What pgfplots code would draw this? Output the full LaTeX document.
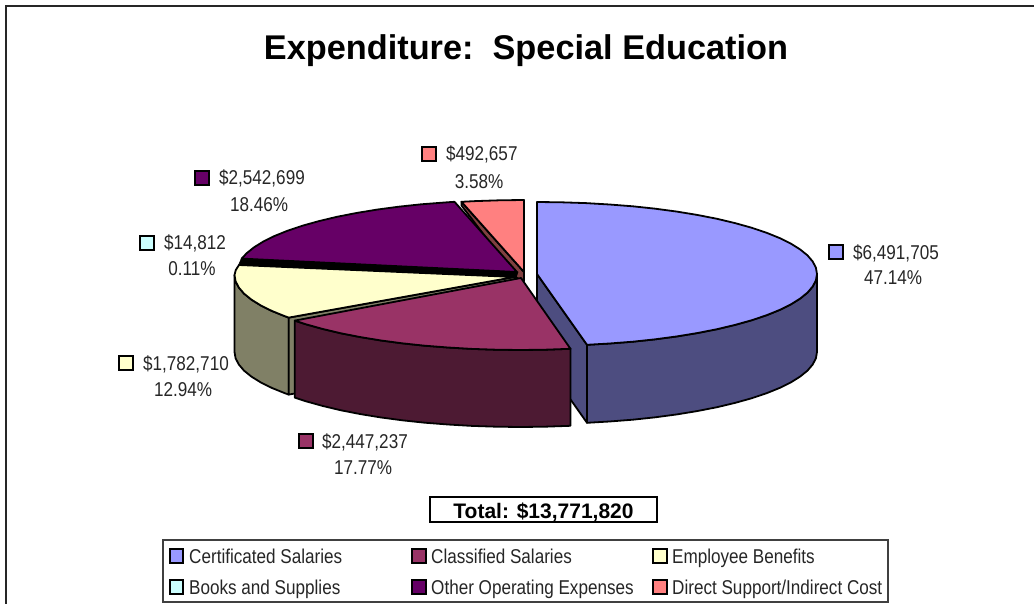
\documentclass[border=0pt]{standalone}
\usepackage{fontspec}
\usepackage{pgfplots}
\pgfplotsset{compat=1.18}
\setmainfont{Liberation Sans}
\newfontfamily\lab[FakeStretch=0.855]{Liberation Sans}
\definecolor{cBlue}{HTML}{9999FF}
\definecolor{cBlueS}{HTML}{4D4D80}
\definecolor{cBur}{HTML}{993366}
\definecolor{cBurS}{HTML}{4D1A33}
\definecolor{cYel}{HTML}{FFFFCC}
\definecolor{cYelS}{HTML}{808066}
\definecolor{cCya}{HTML}{CCFFFF}
\definecolor{cPur}{HTML}{660066}
\definecolor{cPin}{HTML}{FF8080}
\definecolor{cPinS}{HTML}{804040}
\pgfplotsset{
  slice/.style={draw=black,line width=1.8pt,line join=round,fill=#1,mark=none},
  key/.style={draw=black,line width=1.7pt,line join=miter,fill=#1,mark=none},
}
\tikzset{
  lbl/.style={anchor=base west,inner sep=0pt,font=\lab\fontsize{20}{20}\selectfont,text=black!85},
  lblc/.style={anchor=base,inner sep=0pt,font=\lab\fontsize{20}{20}\selectfont,text=black!85},
}
\begin{document}
\begin{tikzpicture}
\path[use as bounding box] (0,0) rectangle (1034pt,604pt);
\begin{axis}[at={(0,0)},anchor=south west,scale only axis,width=1034pt,height=604pt,
  xmin=0,xmax=1034,ymin=0,ymax=604,y dir=reverse,hide axis,clip=false]
% frame
\addplot[draw=black!85,line width=1.6pt,mark=none] coordinates {(6,604)(6,6)(1034,6)};
% direct support cut face
\addplot[slice=cPinS] coordinates {(461.5,201.8)(524,272)(524,281)(517,278)(461.5,205.5)} --cycle;
% direct support
\addplot[slice=cPin] coordinates {(524,272)(461.5,201.8)(475.4,201.1)(499.6,200.3)(524,200)} --cycle;
% books and supplies (thin wedge)
\addplot[draw=black,line width=0.5pt,fill=black,mark=none] coordinates {(238.5,265)(241.5,258)(518,272)(516,278)} --cycle;
% other operating
\addplot[slice=cPur] coordinates {(517,272)(241.7,258.6)(246.5,253.4)(253.9,247.4)(263.2,241.6)(274.5,236)(287.6,230.7)(302.5,225.7)(319,221.1)(337,216.8)(356.4,213)(377,209.6)(398.7,206.7)(421.2,204.3)(444.5,202.5)(454.5,201.8)} --cycle;
% employee benefits side
\addplot[slice=cYelS] coordinates {(288.8,317.6)(285.1,316.3)(272,311)(260.7,305.4)(251.4,299.6)(244,293.6)(238.8,287.5)(235.6,281.3)(234.5,275)(234.5,352)(235.6,358.3)(238.8,364.5)(244,370.6)(251.4,376.6)(260.7,382.4)(272,388)(285.1,393.3)(288.8,394.6)} --cycle;
\addplot[slice=cYelS] coordinates {(288.8,317.6)(514.5,277)(514.5,352)(288.8,394.6)} --cycle;
% employee benefits top
\addplot[slice=cYel] coordinates {(514.5,277)(288.8,317.6)(285.1,316.3)(272,311)(260.7,305.4)(251.4,299.6)(244,293.6)(238.8,287.5)(235.6,281.3)(234.5,275)(235.8,270)(239,265)} --cycle;
% certificated side and cut face
\addplot[slice=cBlueS] coordinates {(537,274)(587,344.8)(587,422.8)(537,352)} --cycle;
\addplot[slice=cBlueS] coordinates {(817,274)(815.9,280.3)(812.7,286.5)(807.5,292.6)(800.1,298.6)(790.8,304.4)(779.5,310)(766.4,315.3)(751.5,320.3)(735,324.9)(717,329.2)(697.6,333)(677,336.4)(655.3,339.3)(632.8,341.7)(609.5,343.5)(587,344.8)(587,422.8)(609.5,421.5)(632.8,419.7)(655.3,417.3)(677,414.4)(697.6,411)(717,407.2)(735,402.9)(751.5,398.3)(766.4,393.3)(779.5,388)(790.8,382.4)(800.1,376.6)(807.5,370.6)(812.7,364.5)(815.9,358.3)(817,352)} --cycle;
% certificated top
\addplot[slice=cBlue] coordinates {(537,274)(537,202)(561.4,202.3)(585.6,203.1)(609.5,204.5)(632.8,206.3)(655.3,208.7)(677,211.6)(697.6,215)(717,218.8)(735,223.1)(751.5,227.7)(766.4,232.7)(779.5,238)(790.8,243.6)(800.1,249.4)(807.5,255.4)(812.7,261.5)(815.9,267.7)(817,274)(815.9,280.3)(812.7,286.5)(807.5,292.6)(800.1,298.6)(790.8,304.4)(779.5,310)(766.4,315.3)(751.5,320.3)(735,324.9)(717,329.2)(697.6,333)(677,336.4)(655.3,339.3)(632.8,341.7)(609.5,343.5)(587,344.8)} --cycle;
% classified side
\addplot[slice=cBurS] coordinates {(570.5,348.8)(544.9,349.7)(520.5,350)(496.1,349.7)(471.9,348.9)(448,347.5)(424.7,345.7)(402.2,343.3)(380.5,340.4)(359.9,337)(340.5,333.2)(322.5,328.9)(306,324.3)(294.8,320.6)(294.8,397.6)(306,401.3)(322.5,405.9)(340.5,410.2)(359.9,414)(380.5,417.4)(402.2,420.3)(424.7,422.7)(448,424.5)(471.9,425.9)(496.1,426.7)(520.5,427)(544.9,426.7)(570.5,425.8)} --cycle;
% classified top
\addplot[slice=cBur] coordinates {(521,278)(570.5,348.8)(544.9,349.7)(520.5,350)(496.1,349.7)(471.9,348.9)(448,347.5)(424.7,345.7)(402.2,343.3)(380.5,340.4)(359.9,337)(340.5,333.2)(322.5,328.9)(306,324.3)(294.8,320.6)} --cycle;
% data label keys
\addplot[key=cBlue] coordinates {(829,245)(843,245)(843,259)(829,259)} --cycle;
\addplot[key=cPin] coordinates {(422,147)(436,147)(436,161)(422,161)} --cycle;
\addplot[key=cPur] coordinates {(195,171)(209,171)(209,185)(195,185)} --cycle;
\addplot[key=cCya] coordinates {(140,236)(154,236)(154,250)(140,250)} --cycle;
\addplot[key=cYel] coordinates {(119,356)(133,356)(133,370)(119,370)} --cycle;
\addplot[key=cBur] coordinates {(299,434)(313,434)(313,448)(299,448)} --cycle;
% total box
\addplot[draw=black,line width=1.8pt,fill=white,mark=none] coordinates {(430,497)(657,497)(657,522)(430,522)} --cycle;
% legend box
\addplot[draw=black!75,line width=1.4pt,fill=white,mark=none] coordinates {(163,540)(888,540)(888,602)(163,602)} --cycle;
\addplot[key=cBlue] coordinates {(170,549)(183,549)(183,563)(170,563)} --cycle;
\addplot[key=cBur] coordinates {(412,549)(426,549)(426,563)(412,563)} --cycle;
\addplot[key=cYel] coordinates {(653,549)(667,549)(667,563)(653,563)} --cycle;
\addplot[key=cCya] coordinates {(170,580)(183,580)(183,594)(170,594)} --cycle;
\addplot[key=cPur] coordinates {(412,580)(426,580)(426,594)(412,594)} --cycle;
\addplot[key=cPin] coordinates {(653,580)(667,580)(667,594)(653,594)} --cycle;
% texts
\node[anchor=base,inner sep=0pt,font=\bfseries\fontsize{34.3}{34.3}\selectfont] at (axis cs:526,60) {Expenditure:\ \ Special Education};
\node[anchor=base,inner sep=0pt,font=\bfseries\fontsize{21}{21}\selectfont] at (axis cs:543.5,518) {Total: \$13,771,820};
\node[lbl] at (axis cs:853,260) {\$6,491,705};
\node[lblc] at (axis cs:893,285) {47.14\%};
\node[lbl] at (axis cs:446,161) {\$492,657};
\node[lblc] at (axis cs:479,189) {3.58\%};
\node[lbl] at (axis cs:219,185) {\$2,542,699};
\node[lblc] at (axis cs:259,212) {18.46\%};
\node[lbl] at (axis cs:164,250) {\$14,812};
\node[lblc] at (axis cs:192,276) {0.11\%};
\node[lbl] at (axis cs:143,370) {\$1,782,710};
\node[lblc] at (axis cs:183,396) {12.94\%};
\node[lbl] at (axis cs:322,448) {\$2,447,237};
\node[lblc] at (axis cs:363,474) {17.77\%};
\node[lbl] at (axis cs:189,563.5) {Certificated Salaries};
\node[lbl] at (axis cs:431,563.5) {Classified Salaries};
\node[lbl] at (axis cs:672,563.5) {Employee Benefits};
\node[lbl] at (axis cs:189,594.5) {Books and Supplies};
\node[lbl] at (axis cs:431,594.5) {Other Operating Expenses};
\node[lbl] at (axis cs:672,594.5) {Direct Support/Indirect Cost};
\end{axis}
\end{tikzpicture}
\end{document}
